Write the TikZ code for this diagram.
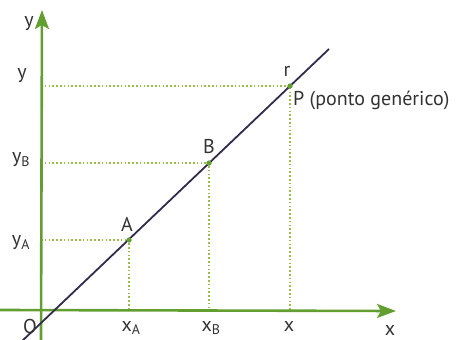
\documentclass[tikz,border=0pt]{standalone}
\usepackage{fontspec}
\setmainfont{PT Sans}
\usetikzlibrary{arrows.meta}
\definecolor{axgreen}{RGB}{98,158,48}
\definecolor{dotgreen}{RGB}{150,192,70}
\definecolor{linecol}{RGB}{52,42,78}
\tikzset{
  axis/.style={draw=axgreen,line width=2.6pt,-{Stealth[length=19pt,width=14pt,inset=4pt]}},
  guide/.style={draw=dotgreen,line width=1.6pt,dash pattern=on 1.6pt off 2.2pt},
  rline/.style={draw=linecol,line width=1.8pt},
  pt/.style={circle,fill=axgreen,inner sep=0pt,minimum size=5pt},
  lbl/.style={font=\fontsize{20}{22}\selectfont,text=black!80,inner sep=0pt}
}
\begin{document}
\begin{tikzpicture}[x=1pt,y=-1pt]
\useasboundingbox (0,0) rectangle (459,340);
\coordinate (O) at (41,310);
\coordinate (ybot) at (41,340);
\coordinate (ytop) at (42,10);
\coordinate (xleft) at (0,310);
\coordinate (xright) at (396,311);
\coordinate (r0) at (20,343);
\coordinate (r1) at (329,49);
\node[pt] (A) at (129,240) {};
\node[pt] (B) at (209,163) {};
\node[pt] (P) at (290,86) {};
\coordinate (Ay) at (41,240);
\coordinate (By) at (41,163);
\coordinate (Py) at (41,86);
\coordinate (Ax) at (129,310);
\coordinate (Bx) at (209,310);
\coordinate (Px) at (290,310);
% guides
\draw[guide] (Ay) -- (A.center) -- (Ax);
\draw[guide] (By) -- (B.center) -- (Bx);
\draw[guide] (Py) -- (P.center) -- (Px);
% axes
\draw[axis] (ybot) -- (ytop);
\draw[axis] (xleft) -- (xright);
% line r
\draw[rline] (r0) -- (r1);
\node[pt] at (A) {};
\node[pt] at (B) {};
\node[pt] at (P) {};
% labels
\node[lbl] (ylab) at (29,24) {y};
\node[lbl] (yP) at (22,76) {y};
\node[lbl] (yB) at (21,160) {y\textsubscript{B}};
\node[lbl] (yA) at (21,243) {y\textsubscript{A}};
\node[lbl] (Olab) at (30,326) {O};
\node[lbl] (xA) at (131,328) {x\textsubscript{A}};
\node[lbl] (xB) at (211,328) {x\textsubscript{B}};
\node[lbl] (xP) at (289,326) {x};
\node[lbl] (xlab) at (390,330) {x};
\node[lbl] (Alab) at (127,224) {A};
\node[lbl] (Blab) at (209,146) {B};
\node[lbl] (rlab) at (287,71) {r};
\node[lbl,anchor=west] (Plab) at (293,100) {P (ponto genérico)};
\end{tikzpicture}
\end{document}
